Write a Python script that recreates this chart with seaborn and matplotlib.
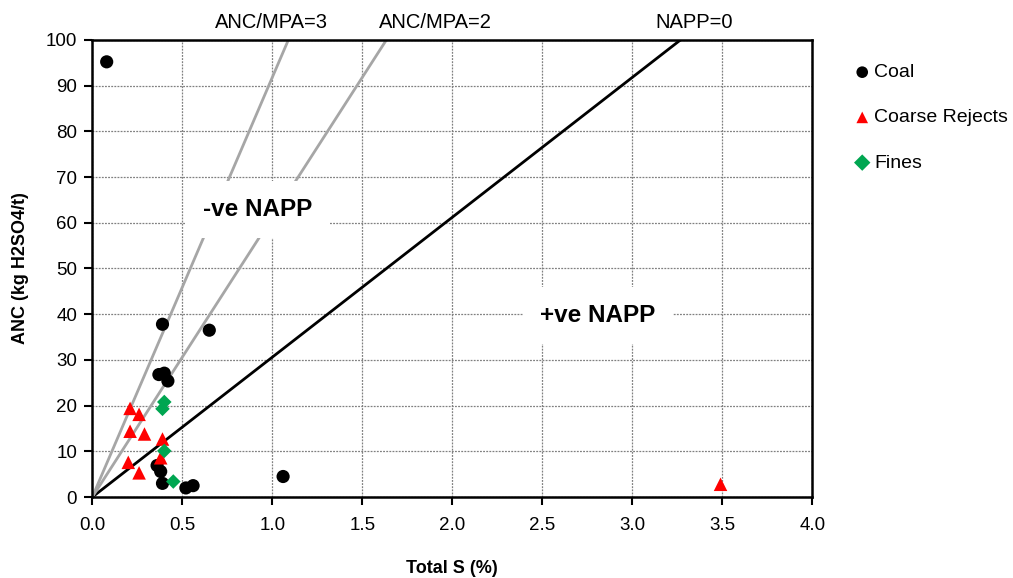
import numpy as np
import pandas as pd
import matplotlib
matplotlib.use("Agg")
import matplotlib.pyplot as plt
import seaborn as sns

# ---- data ----
coal_s   = [0.08, 0.39, 0.65, 0.37, 0.40, 0.42, 0.36, 0.38, 0.39, 0.52, 0.56, 1.06]
coal_anc = [95.2, 37.8, 36.5, 26.8, 27.1, 25.4, 6.9, 5.6, 3.0, 2.0, 2.5, 4.5]

rej_s   = [0.21, 0.26, 0.21, 0.29, 0.39, 0.20, 0.38, 0.26, 3.49]
rej_anc = [19.4, 18.1, 14.4, 13.8, 12.7, 7.6, 8.6, 5.3, 2.8]

fines_s   = [0.40, 0.39, 0.40, 0.45]
fines_anc = [20.8, 19.3, 10.1, 3.4]

groups = ["Coal", "Coarse Rejects", "Fines"]
colors = {"Coal": "black", "Coarse Rejects": "#ff0000", "Fines": "#00a651"}
markers = {"Coal": "o", "Coarse Rejects": "^", "Fines": "D"}
sizes = {"Coal": 90, "Coarse Rejects": 95, "Fines": 55}

# reference lines: ANC = slope * S (MPA = 30.6 * S)
line_labels = ["NAPP=0", "ANC/MPA=2", "ANC/MPA=3"]
line_slopes = [30.6, 61.2, 91.8]

x_ticks = [0.0, 0.5, 1.0, 1.5, 2.0, 2.5, 3.0, 3.5, 4.0]
y_ticks = list(range(0, 101, 10))

df = pd.DataFrame({
    "S": coal_s + rej_s + fines_s,
    "ANC": coal_anc + rej_anc + fines_anc,
    "Type": ["Coal"] * len(coal_s) + ["Coarse Rejects"] * len(rej_s) + ["Fines"] * len(fines_s),
})

sns.set_theme(style="white")
plt.rcParams["font.family"] = ["Liberation Sans", "DejaVu Sans"]
plt.rcParams["text.color"] = "black"
plt.rcParams["axes.labelcolor"] = "black"
plt.rcParams["xtick.color"] = "black"
plt.rcParams["ytick.color"] = "black"

fig = plt.figure(figsize=(10.13, 5.78), dpi=100)
ax = fig.add_axes([0.0911, 0.140, 0.7108, 0.791])

ax.set_xlim(0, 4)
ax.set_ylim(0, 100)

# grid
ax.set_xticks(x_ticks)
ax.set_yticks(y_ticks)
ax.grid(True, color="#808080", linestyle=(0, (1.5, 1.0)), linewidth=0.9)
ax.set_axisbelow(True)

# reference lines
xs = np.array([0.0, 4.0])
ax.plot(xs, line_slopes[0] * xs, color="black", lw=2.0, zorder=2)
ax.plot(xs, line_slopes[1] * xs, color="#a6a6a6", lw=2.0, zorder=2)
ax.plot(xs, line_slopes[2] * xs, color="#a6a6a6", lw=2.0, zorder=2)

# scatter
for g in groups:
    sub = df[df["Type"] == g]
    sns.scatterplot(data=sub, x="S", y="ANC", ax=ax, color=colors[g],
                    marker=markers[g], s=sizes[g], edgecolor="none",
                    label=g, zorder=5, clip_on=False)

# region labels with white boxes
ax.text(0.92, 63, "-ve NAPP", fontsize=17.5, fontweight="bold", ha="center", va="center",
        zorder=4, bbox=dict(boxstyle="square,pad=0.7", fc="white", ec="none"))
ax.text(2.81, 39.8, "+ve NAPP", fontsize=17.5, fontweight="bold", ha="center", va="center",
        zorder=4, bbox=dict(boxstyle="square,pad=0.7", fc="white", ec="none"))

# top line labels
ax.text(0.993, 103.9, line_labels[2], fontsize=14.5, ha="center", va="center", clip_on=False)
ax.text(1.904, 103.9, line_labels[1], fontsize=14.5, ha="center", va="center", clip_on=False)
ax.text(3.343, 103.9, line_labels[0], fontsize=14.5, ha="center", va="center", clip_on=False)

# axes styling
ax.set_xticklabels([f"{t:.1f}" for t in x_ticks], fontsize=13.5)
ax.set_yticklabels([str(t) for t in y_ticks], fontsize=13.5)
ax.tick_params(axis="both", direction="out", length=6, width=1.5, color="black",
               bottom=True, left=True, labelcolor="black")
ax.tick_params(axis="x", pad=8)
ax.tick_params(axis="y", pad=5)
for sp in ax.spines.values():
    sp.set_color("black")
    sp.set_linewidth(1.8)

ax.set_xlabel("Total S (%)", fontsize=13, fontweight="bold", labelpad=19, color="black")
ax.set_ylabel("ANC (kg H2SO4/t)", fontsize=13, fontweight="bold", labelpad=12, color="black")

leg = ax.legend(loc="upper left", bbox_to_anchor=(1.045, 0.965), frameon=False,
                fontsize=14, labelspacing=1.42, handletextpad=0.1, handlelength=1.0,
                borderaxespad=0)
for h in leg.legend_handles:
    try:
        h.set_sizes([70])
    except Exception:
        pass

fig.savefig("out.png", dpi=100)
